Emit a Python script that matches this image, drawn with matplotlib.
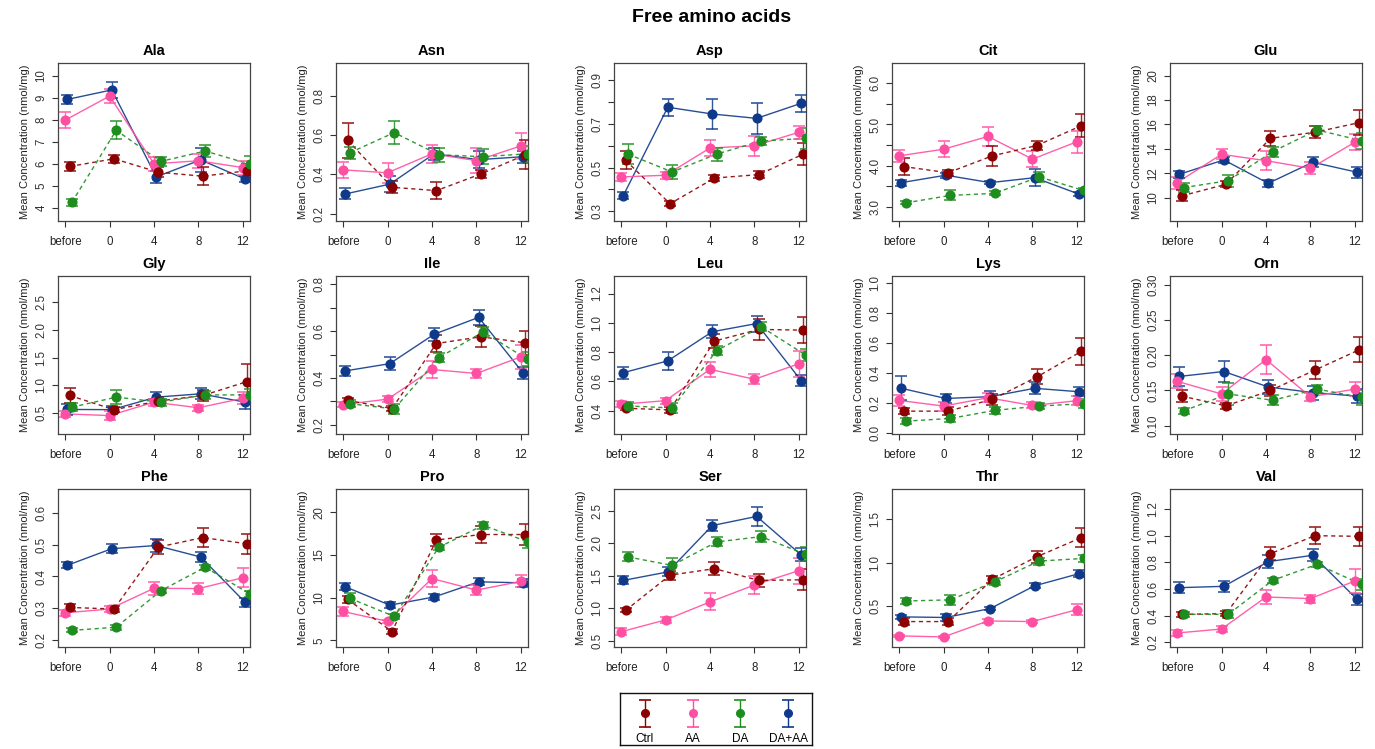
import matplotlib
matplotlib.use('Agg')
import matplotlib.pyplot as plt
import numpy as np

plt.rcParams['font.family'] = ['Liberation Sans', 'DejaVu Sans']

timepoints = ['before', '0', '4', '8', '12']
groups = ['Ctrl', 'AA', 'DA', 'DA+AA']

# rows: Ctrl, AA, DA, DA+AA ; columns: before, 0, 4, 8, 12 h
ala_mean = [[5.89, 6.24, 5.63, 5.45, 5.70], [7.99, 9.08, 6.01, 6.15, 5.84],
            [4.26, 7.53, 6.12, 6.59, 6.00], [8.93, 9.36, 5.42, 6.19, 5.32]]
ala_se = [[0.22, 0.17, 0.22, 0.42, 0.32], [0.35, 0.32, 0.33, 0.32, 0.32],
          [0.15, 0.40, 0.22, 0.28, 0.38], [0.22, 0.38, 0.28, 0.55, 0.15]]

asn_mean = [[0.574, 0.334, 0.317, 0.402, 0.50], [0.423, 0.408, 0.505, 0.47, 0.545],
            [0.51, 0.613, 0.50, 0.49, 0.505], [0.30, 0.35, 0.505, 0.475, 0.49]]
asn_se = [[0.09, 0.03, 0.045, 0.02, 0.075], [0.04, 0.05, 0.045, 0.065, 0.065],
          [0.03, 0.058, 0.035, 0.038, 0.04], [0.028, 0.04, 0.03, 0.045, 0.03]]

asp_mean = [[0.534, 0.334, 0.452, 0.468, 0.562], [0.457, 0.465, 0.59, 0.60, 0.662],
            [0.562, 0.48, 0.562, 0.622, 0.634], [0.372, 0.777, 0.746, 0.726, 0.795]]
asp_se = [[0.04, 0.012, 0.015, 0.015, 0.05], [0.02, 0.015, 0.035, 0.045, 0.03],
          [0.045, 0.03, 0.03, 0.02, 0.05], [0.015, 0.04, 0.07, 0.07, 0.04]]

cit_mean = [[3.98, 3.83, 4.24, 4.49, 4.97], [4.24, 4.40, 4.71, 4.16, 4.58],
            [3.10, 3.28, 3.33, 3.73, 3.40], [3.59, 3.77, 3.59, 3.71, 3.31]]
cit_se = [[0.2, 0.07, 0.25, 0.11, 0.28], [0.15, 0.2, 0.22, 0.2, 0.27],
          [0.04, 0.12, 0.05, 0.12, 0.07], [0.07, 0.06, 0.04, 0.2, 0.05]]

glu_mean = [[10.14, 11.09, 14.86, 15.36, 16.15], [11.23, 13.55, 13.03, 12.40, 14.54],
            [10.82, 11.39, 13.77, 15.55, 14.67], [11.91, 13.09, 11.17, 12.90, 12.08]]
glu_se = [[0.45, 0.25, 0.6, 0.5, 1.0], [0.5, 0.4, 0.8, 0.5, 0.65],
          [0.4, 0.5, 0.4, 0.35, 0.65], [0.3, 0.25, 0.3, 0.4, 0.45]]

gly_mean = [[0.82, 0.566, 0.72, 0.82, 1.07], [0.49, 0.46, 0.70, 0.60, 0.77],
            [0.61, 0.79, 0.70, 0.83, 0.83], [0.57, 0.566, 0.79, 0.85, 0.70]]
gly_se = [[0.13, 0.05, 0.07, 0.1, 0.31], [0.06, 0.08, 0.06, 0.05, 0.11],
          [0.07, 0.12, 0.06, 0.07, 0.1], [0.1, 0.07, 0.09, 0.1, 0.12]]

ile_mean = [[0.304, 0.269, 0.547, 0.576, 0.55], [0.286, 0.309, 0.436, 0.419, 0.49],
            [0.29, 0.267, 0.486, 0.597, 0.479], [0.43, 0.461, 0.587, 0.659, 0.421]]
ile_se = [[0.01, 0.01, 0.035, 0.045, 0.05], [0.01, 0.012, 0.035, 0.02, 0.05],
          [0.015, 0.02, 0.02, 0.02, 0.03], [0.022, 0.027, 0.027, 0.033, 0.025]]

leu_mean = [[0.416, 0.405, 0.875, 0.955, 0.95], [0.443, 0.468, 0.682, 0.614, 0.72],
            [0.432, 0.418, 0.81, 0.973, 0.78], [0.659, 0.74, 0.939, 0.995, 0.605]]
leu_se = [[0.015, 0.02, 0.05, 0.07, 0.09], [0.02, 0.02, 0.05, 0.035, 0.09],
          [0.03, 0.035, 0.03, 0.03, 0.04], [0.04, 0.06, 0.045, 0.055, 0.04]]

lys_mean = [[0.145, 0.145, 0.224, 0.374, 0.545], [0.217, 0.179, 0.235, 0.183, 0.215],
            [0.078, 0.096, 0.15, 0.179, 0.195], [0.298, 0.23, 0.242, 0.298, 0.275]]
lys_se = [[0.02, 0.025, 0.035, 0.05, 0.09], [0.035, 0.03, 0.03, 0.02, 0.03],
          [0.02, 0.025, 0.025, 0.02, 0.03], [0.08, 0.03, 0.035, 0.04, 0.03]]

orn_mean = [[0.142, 0.128, 0.150, 0.179, 0.208], [0.163, 0.145, 0.194, 0.141, 0.152],
            [0.121, 0.145, 0.136, 0.152, 0.140], [0.170, 0.177, 0.155, 0.147, 0.142]]
orn_se = [[0.008, 0.004, 0.008, 0.013, 0.018], [0.01, 0.01, 0.021, 0.006, 0.01],
          [0.004, 0.015, 0.007, 0.006, 0.01], [0.013, 0.015, 0.01, 0.01, 0.01]]

phe_mean = [[0.303, 0.298, 0.492, 0.522, 0.502], [0.286, 0.298, 0.363, 0.362, 0.396],
            [0.231, 0.241, 0.355, 0.429, 0.346], [0.435, 0.487, 0.497, 0.461, 0.319]]
phe_se = [[0.012, 0.01, 0.022, 0.03, 0.032], [0.01, 0.01, 0.02, 0.017, 0.03],
          [0.006, 0.008, 0.006, 0.008, 0.01], [0.01, 0.015, 0.02, 0.015, 0.015]]

pro_mean = [[9.8, 6.04, 16.73, 17.38, 17.38], [8.38, 7.23, 12.23, 10.88, 11.9],
            [9.92, 7.81, 15.88, 18.46, 16.54], [11.27, 9.12, 10.08, 11.85, 11.73]]
pro_se = [[0.4, 0.3, 0.7, 1.0, 1.2], [0.5, 0.2, 1.0, 0.6, 0.7],
          [0.6, 0.3, 0.3, 0.4, 0.7], [0.4, 0.35, 0.35, 0.4, 0.5]]

ser_mean = [[0.97, 1.51, 1.61, 1.43, 1.44], [0.644, 0.825, 1.10, 1.36, 1.58],
            [1.79, 1.66, 2.02, 2.10, 1.83], [1.43, 1.56, 2.27, 2.41, 1.82]]
ser_se = [[0.03, 0.07, 0.1, 0.1, 0.16], [0.05, 0.05, 0.13, 0.14, 0.2],
          [0.07, 0.11, 0.07, 0.08, 0.11], [0.06, 0.07, 0.08, 0.14, 0.1]]

thr_mean = [[0.323, 0.323, 0.81, 1.07, 1.29], [0.158, 0.146, 0.33, 0.323, 0.46],
            [0.56, 0.573, 0.78, 1.02, 1.05], [0.377, 0.37, 0.473, 0.735, 0.875]]
thr_se = [[0.04, 0.04, 0.04, 0.07, 0.11], [0.015, 0.015, 0.025, 0.015, 0.06],
          [0.04, 0.06, 0.04, 0.04, 0.04], [0.02, 0.035, 0.02, 0.03, 0.04]]

val_mean = [[0.41, 0.415, 0.865, 1.0, 0.995], [0.27, 0.30, 0.54, 0.528, 0.66],
            [0.41, 0.41, 0.665, 0.785, 0.635], [0.61, 0.62, 0.805, 0.853, 0.522]]
val_se = [[0.02, 0.02, 0.05, 0.065, 0.07], [0.02, 0.025, 0.05, 0.03, 0.09],
          [0.02, 0.03, 0.02, 0.02, 0.04], [0.04, 0.04, 0.05, 0.045, 0.04]]

panels = [
    ('Ala', ala_mean, ala_se), ('Asn', asn_mean, asn_se), ('Asp', asp_mean, asp_se),
    ('Cit', cit_mean, cit_se), ('Glu', glu_mean, glu_se), ('Gly', gly_mean, gly_se),
    ('Ile', ile_mean, ile_se), ('Leu', leu_mean, leu_se), ('Lys', lys_mean, lys_se),
    ('Orn', orn_mean, orn_se), ('Phe', phe_mean, phe_se), ('Pro', pro_mean, pro_se),
    ('Ser', ser_mean, ser_se), ('Thr', thr_mean, thr_se), ('Val', val_mean, val_se),
]

# y axis: limits, first tick, step, label every n-th tick, format
yaxis = {
    'Ala': ((3.42, 10.58), 4, 1, 1, '%d'),
    'Asn': ((0.162, 0.968), 0.2, 0.2, 1, '%.1f'),
    'Asp': ((0.255, 0.98), 0.3, 0.1, 2, '%.1f'),
    'Cit': ((2.66, 6.49), 3.0, 0.5, 2, '%.1f'),
    'Glu': ((8.08, 21.04), 10, 2, 1, '%d'),
    'Gly': ((0.13, 2.96), 0.5, 0.5, 1, '%.1f'),
    'Ile': ((0.16, 0.836), 0.2, 0.1, 2, '%.1f'),
    'Leu': ((0.24, 1.32), 0.4, 0.2, 1, '%.1f'),
    'Lys': ((-0.008, 1.05), 0.0, 0.2, 1, '%.1f'),
    'Orn': ((0.088, 0.313), 0.10, 0.05, 1, '%.2f'),
    'Phe': ((0.179, 0.674), 0.2, 0.1, 1, '%.1f'),
    'Pro': ((4.23, 22.7), 5, 5, 1, '%d'),
    'Ser': ((0.41, 2.83), 0.5, 0.5, 1, '%.1f'),
    'Thr': ((0.03, 1.85), 0.5, 0.5, 1, '%.1f'),
    'Val': ((0.165, 1.35), 0.2, 0.2, 1, '%.1f'),
}

colors = {'Ctrl': '#8B0000', 'AA': '#FF4FA3', 'DA': '#1E8C1E', 'DA+AA': '#0F3A8A'}
styles = {'Ctrl': (0, (3, 2.5)), 'AA': '-', 'DA': (0, (3, 2.5)), 'DA+AA': '-'}
offsets = {'Ctrl': 0.10, 'AA': 0.0, 'DA': 0.15, 'DA+AA': 0.05}
draw_order = ['DA+AA', 'AA', 'Ctrl', 'DA']

W, H = 1375, 749
fig = plt.figure(figsize=(W / 100, H / 100), dpi=100)
fig.text(712 / W, 1 - 18 / H, 'Free amino acids', ha='center', va='center',
         fontsize=14, fontweight='bold')

box_w, box_h = 192, 158
row_tops = [63, 276, 489]
x = np.arange(len(timepoints))

for i, (name, means, ses) in enumerate(panels):
    r, c = divmod(i, 5)
    left = 58 + 278 * c
    ax = fig.add_axes([left / W, 1 - (row_tops[r] + box_h) / H, box_w / W, box_h / H])
    for g in draw_order:
        k = groups.index(g)
        xs = x + offsets[g]
        ax.plot(xs, means[k], color=colors[g], linestyle=styles[g], lw=1.0,
                alpha=0.9, zorder=2)
        ax.errorbar(xs, means[k], yerr=ses[k], fmt='none', ecolor=colors[g],
                    elinewidth=1.0, capsize=4.5, capthick=1.2, alpha=0.85, zorder=3)
        ax.plot(xs, means[k], 'o', color=colors[g], markersize=6.3, zorder=4)

    (lo, hi), first, step, every, fmt = yaxis[name]
    ticks = np.arange(first, hi + 1e-9, step)
    ticks = ticks[ticks >= lo]
    ax.set_ylim(lo, hi)
    ax.set_yticks(ticks)
    ax.set_yticklabels([fmt % t if j % every == 0 else '' for j, t in enumerate(ticks)],
                       rotation=90, va='center', fontsize=8.3, color='#333333')
    ax.set_xlim(-0.16, 4.16)
    ax.set_xticks(x)
    ax.set_xticklabels(timepoints, fontsize=8.3, color='#222222')
    ax.tick_params(direction='out', length=4.5, width=0.8, color='#333333', pad=3)
    ax.tick_params(axis='x', pad=6)
    for s in ax.spines.values():
        s.set_color('#444444')
        s.set_linewidth(0.9)
    ax.set_title(name, fontsize=10.5, fontweight='bold', pad=6)
    ax.set_ylabel('Mean Concentration (nmol/mg)', fontsize=8, labelpad=4, color='#222222')

# legend box below the bottom row
lg = fig.add_axes([620 / W, 1 - 745 / H, 192 / W, 52 / H])
lg.set_xlim(0, 192)
lg.set_ylim(52, 0)
lg.set_xticks([])
lg.set_yticks([])
for s in lg.spines.values():
    s.set_color('#111111')
    s.set_linewidth(1.0)
leg_x = [25, 73, 120, 168]
for g, lx in zip(groups, leg_x):
    lg.errorbar([lx], [20], yerr=[13.5], fmt='o', color=colors[g], ecolor=colors[g],
                elinewidth=1.0, capsize=4.5, capthick=1.2, markersize=5.5)
    lg.text(lx, 45.5, g, ha='center', va='center', fontsize=8.5,
            family=['Liberation Sans Narrow', 'Liberation Sans', 'DejaVu Sans'])

fig.savefig('out.png', dpi=100)
